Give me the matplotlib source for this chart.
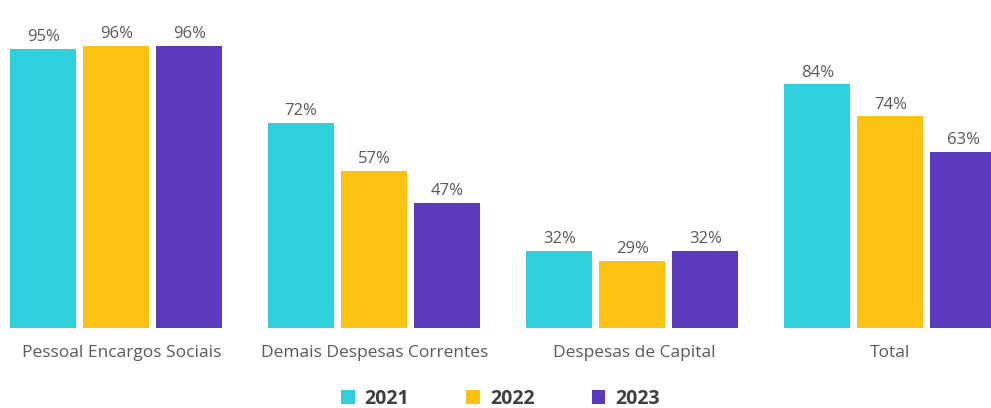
import numpy as np
from matplotlib import pyplot as plt

plt.rcParams['font.family'] = ['Open Sans', 'DejaVu Sans']

# data
categories = ["Pessoal Encargos Sociais", "Demais Despesas Correntes", "Despesas de Capital", "Total"]
years = ["2021", "2022", "2023"]
v2021 = [95, 72, 32, 84]
v2022 = [96, 57, 29, 74]
v2023 = [96, 47, 32, 63]
series = [v2021, v2022, v2023]
colors = ["#30CFDC", "#FCC212", "#5B3ABD"]

fig = plt.figure(figsize=(9.91, 4.08), dpi=100)
ax = fig.add_axes([0, 0.196, 1, 0.723])

x = np.arange(len(categories))
width = 0.256
step = 0.283

for i, vals in enumerate(series):
    pos = x + (i - 1) * step
    bars = ax.bar(pos, vals, width=width, color=colors[i], label=years[i])
    for b, v in zip(bars, vals):
        ax.text(b.get_x() + b.get_width() / 2, v + 1.2, f"{v}%", ha="center", va="bottom",
                fontsize=12, color="#595959", clip_on=False)

ax.set_xlim(-0.45, 3.39)
ax.set_ylim(8, 100)
ax.set_xticks(x + np.array([0.02, 0.0, 0.008, 0]))
ax.set_xticklabels(categories, fontsize=12.5, color="#595959")
ax.tick_params(axis="x", length=0, pad=12)
ax.set_yticks([])
for s in ax.spines.values():
    s.set_visible(False)

leg = fig.legend(loc="lower center", bbox_to_anchor=(0.505, -0.045), ncol=3, frameon=False,
                 handlelength=0.7, handleheight=0.7, handletextpad=0.5, columnspacing=2.95,
                 prop={"weight": "bold", "size": 14})
for t in leg.get_texts():
    t.set_color("#404040")

fig.savefig("out.png", dpi=100)
